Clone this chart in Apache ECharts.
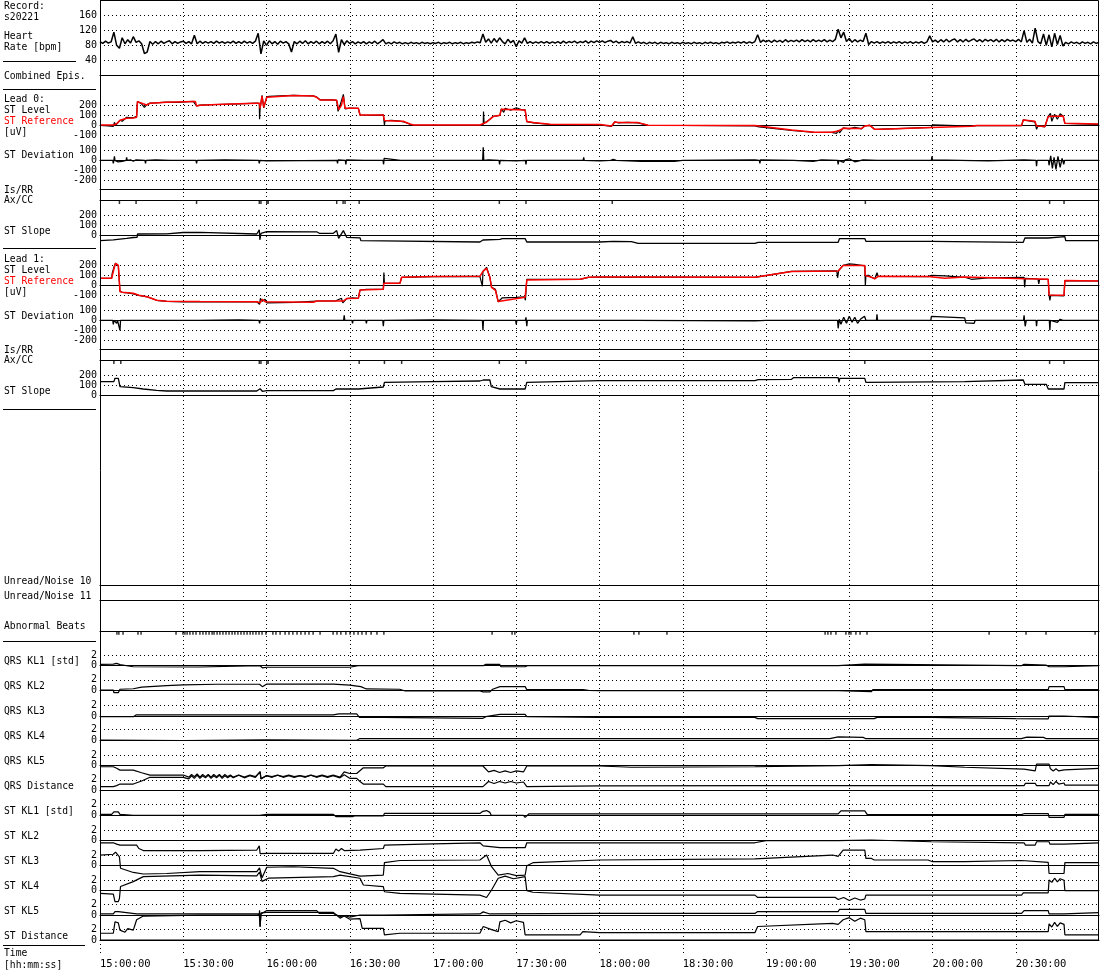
<!DOCTYPE html>
<html><head><meta charset="utf-8">
<script src="https://cdn.jsdelivr.net/npm/echarts@6/dist/echarts.min.js"></script>
<style>html,body{margin:0;padding:0;background:#fff}#c{width:1100px;height:970px}</style>
</head><body><div id="c"></div>
<script>
// ---------------- DATA (time in minutes after 15:00:00) ----------------
const timeLabels = ['15:00:00','15:30:00','16:00:00','16:30:00','17:00:00','17:30:00','18:00:00','18:30:00','19:00:00','19:30:00','20:00:00','20:30:00','21:00:00'];
const hrStep = 1;
const hrValues = [
90,85,91,86,89,115,80,72,100,84, 95,86,103,88,92,84,58,62,90,83, 90,84,91,85,89,92,84,90,85,89,
91,85,90,84,107,84,91,85,90,86, 90,85,91,86,90,85,89,86,91,85, 90,85,91,86,90,85,91,112,57,92,
80,92,84,90,83,91,86,90,84,62, 90,84,91,85,92,84,90,85,91,84, 90,85,91,84,92,110,61,95,82,92,
85,90,84,89,85,90,84,89,85,91, 84,89,95,84,88,84,89,85,88,84, 87,84,88,85,87,84,88,85,87,84,
87,85,88,84,87,85,88,84,87,85, 88,84,87,85,88,86,89,87,110,88, 97,86,98,88,100,90,84,96,87,93,
76,92,86,100,85,90,85,89,86,90, 86,90,85,89,86,90,85,91,86,90, 87,91,86,90,87,92,86,91,87,92,
88,92,87,91,93,87,91,86,90,87, 90,86,103,85,89,85,88,84,88,85, 88,84,88,85,87,84,88,85,87,84,
88,85,87,84,88,85,87,84,88,85, 88,85,87,84,88,86,89,85,88,86, 89,86,90,85,89,86,90,108,88,94,
89,93,88,94,89,93,88,95,89,93, 90,94,89,95,90,94,89,95,90,94, 90,95,89,94,90,96,123,100,115,90,
98,88,95,89,94,90,112,82,90,86, 90,85,89,86,90,85,89,86,90,85, 89,86,90,85,89,86,90,85,89,105,
89,94,88,95,89,96,89,94,97,89, 95,89,96,90,94,97,90,95,89,96, 91,95,90,96,89,95,90,96,91,94,
90,96,89,119,88,96,86,126,90,84, 110,80,108,76,112,82,106,78,88,84, 89,85,88,84,89,85,88,84,89,85,
88];

const lead0Ref = [[0,3],[4.8,3],[6,15],[7.2,50],[9.6,70],[12,72],[13.2,80],[13.5,237],[15.6,215],[16.8,203],[18,220],[24,230],[33.6,237],[34.4,237],[34.8,193],[36,200],[42,207],[50,215],[56.5,220],[57.4,220],[57.7,170],[58.4,293],[59,180],[60.1,280],[60.7,287],[69.7,297],[76.9,293],[78.1,280],[79.3,253],[84.1,253],[85.3,250],[86,157],[87,200],[87.7,287],[88.3,170],[88.9,170],[93.1,170],[93.7,103],[102.1,103],[102.5,47],[108.1,40],[109.3,40],[111.7,13],[113,3],[136.9,3],[139.3,30],[140.5,60],[141.7,87],[144.1,100],[144.6,160],[153.2,153],[153.8,37],[156.2,27],[162.2,10],[180.2,7],[184.3,-7],[185.5,33],[186.7,27],[193.9,27],[197.5,0],[236,-3],[249.2,-47],[257.6,-70],[263.6,-70],[266,-57],[267.8,-30],[274.4,-33],[275.6,-7],[277.4,0],[279.2,-40],[281.6,-40],[299.6,-23],[300,-10],[314,-10],[316,-3],[332.1,-3],[332.7,53],[336.9,40],[337.5,-7],[340.5,-13],[341.7,87],[347.1,93],[347.7,20],[359.7,13],[360,13]];
const lead0Level = [[0,0],[3,-5],[4.8,-10],[5.2,30],[5.6,0],[6,15],[7.2,50],[8,40],[9.6,80],[10,60],[12,75],[13.2,90],[13.5,237],[15,215],[16,180],[16.8,205],[18,222],[20,225],[24,232],[28,230],[33.6,240],[34.8,195],[36,202],[42,208],[50,214],[56.5,222],[57.4,220],[57.5,60],[57.7,170],[58.4,300],[59,175],[60.1,285],[61,290],[65,295],[69.7,300],[72,296],[76.9,295],[78.1,282],[79.3,255],[84.1,255],[85.3,250],[85.8,140],[86.5,200],[87.7,310],[88.3,165],[88.9,175],[90,172],[93.1,170],[93.7,103],[100,100],[102.1,105],[102.5,0],[102.7,45],[105,50],[108.1,42],[108.8,60],[109.3,35],[111.7,10],[113,3],[125,0],[136.9,3],[138.1,10],[138.2,137],[138.4,25],[139.3,35],[140.5,60],[141.7,90],[144.1,100],[144.6,165],[145.5,130],[146,170],[148,150],[150,175],[152,155],[153.2,155],[153.8,37],[156.2,25],[162.2,8],[170,5],[174.1,5],[174.3,20],[174.5,5],[180.2,5],[184.3,-10],[185.5,35],[186.7,25],[190,30],[193.9,25],[197.5,0],[210,-2],[236,-5],[237.5,-15],[238,-3],[249.2,-50],[257.6,-72],[263.6,-70],[265.5,-80],[266,-50],[266.5,-75],[267.8,-25],[270,-35],[272,-20],[274.4,-35],[275.6,-5],[277.4,0],[279.2,-42],[281.6,-38],[290,-30],[299.6,-20],[300,5],[300.4,-10],[314,-8],[316,-3],[332.1,-3],[332.7,55],[336.9,35],[337.5,-40],[338,-5],[340.5,-15],[341.7,90],[342.5,120],[343,40],[344,110],[345,60],[346,115],[347.1,90],[347.7,20],[359.7,10],[360,10]];
const lead0Dev = [[0,0],[4.6,0],[4.8,-30],[5.0,0],[5.2,40],[5.4,0],[5.6,-20],[5.8,5],[6.5,-15],[7,5],[8,-10],[8.5,10],[9.4,0],[9.6,30],[9.8,0],[11,5],[12,-10],[13,5],[16.2,0],[16.4,-30],[16.6,0],[20,5],[25,0],[34.6,0],[34.8,-30],[35,0],[45,5],[57.2,0],[57.4,-30],[57.6,0],[60,-5],[85.4,0],[85.6,-30],[85.8,5],[88.4,0],[88.6,-40],[88.8,5],[95,0],[102.0,0],[102.2,-40],[102.4,20],[102.6,0],[108.3,0],[108.5,20],[108.7,0],[120,0],[137.9,0],[138.1,130],[138.3,0],[140,5],[143.8,0],[144,-40],[144.2,0],[150,-5],[153.3,0],[153.5,-40],[153.7,0],[170,0],[174.1,0],[174.3,30],[174.5,0],[180,-5],[184,0],[185,10],[186,0],[195,-10],[207,-10],[210,0],[236,5],[237.6,0],[237.8,-30],[238.0,5],[250,0],[257,-10],[260,5],[265.8,0],[266,-40],[266.2,0],[268,-20],[268.5,5],[270,15],[270.5,0],[272,-15],[272.5,0],[275,5],[280,0],[299.6,0],[299.8,40],[300.0,5],[310,0],[320,-5],[333,5],[337.3,0],[337.5,-60],[337.7,0],[341.8,0],[342,-50],[342.6,45],[343.2,-80],[343.8,30],[344.5,-90],[345.2,40],[346,-70],[346.7,20],[347.3,-40],[347.6,0],[360,0]];
const lead0Slope = [[0,-53],[4.8,-45],[9.6,-30],[12,-22],[13.4,-20],[13.5,13],[24,15],[30,28],[36,30],[36.5,15],[56.5,13],[57.4,55],[57.6,-45],[58,20],[60.1,37],[78.1,35],[79,20],[84.1,20],[85.3,47],[86,-30],[87.7,47],[88.9,-20],[93.7,-25],[94,-53],[102.1,-55],[102.5,-67],[136.9,-67],[138,-47],[144.1,-40],[145,-33],[153.2,-33],[153.8,-67],[180,-67],[185,-60],[191.5,-63],[193.9,-80],[236,-80],[237.2,-70],[266,-70],[266.5,-33],[275.6,-33],[276,-60],[299.6,-60],[300,-70],[332.7,-70],[333.3,-27],[341.7,-27],[342,-13],[347.7,-13],[348,-53],[360,-53]];
const lead0AxCC = [7.0,13.0,34.8,57.4,58.0,60.1,60.6,85.3,87.6,88.3,93.4,143.9,153.5,184.6,275.8,342.2,347.4];

const lead1Ref = [[0,70],[4.2,70],[5,160],[5.6,220],[6.6,200],[7.2,-63],[8,-70],[12,-80],[14,-100],[17,-115],[20.4,-150],[24,-160],[36,-163],[56.5,-165],[57.7,-175],[58.5,-140],[59.5,-165],[60.1,-170],[76.9,-170],[78.1,-157],[87.7,-157],[88.9,-133],[93.1,-130],[93.7,-47],[102.1,-40],[102.3,20],[108.1,20],[108.7,80],[120,87],[136.9,90],[138,140],[139.3,170],[140.5,80],[141.1,-20],[142.5,-50],[143.5,-163],[144.1,-150],[153.2,-120],[153.8,53],[173,60],[176,80],[180.2,83],[191.5,83],[236,80],[249.2,137],[266,143],[267.8,197],[275.6,197],[275.8,97],[278,80],[279.2,65],[280.4,90],[298.4,87],[299,70],[304.4,70],[305,83],[311.6,83],[312,70],[333.3,65],[338,63],[341.7,60],[342,-97],[347.4,-100],[347.7,47],[360,43]];
const lead1Level = [[0,70],[4.2,70],[4.4,120],[5,180],[5.6,220],[6.6,195],[7.2,-60],[8,-70],[10,-75],[12,-85],[14,-100],[17,-115],[20.4,-150],[24,-160],[30,-165],[36,-163],[56.5,-165],[57.2,-175],[57.5,-190],[57.8,-130],[58.5,-160],[59.5,-140],[60.1,-175],[70,-170],[78.1,-157],[85,-155],[87,-130],[87.5,-175],[88.9,-133],[91,-125],[93.1,-130],[93.7,-47],[96,-40],[102.1,-40],[102.3,127],[102.5,20],[108.1,20],[108.7,80],[120,87],[136.9,90],[137.5,75],[137.8,-10],[138,140],[139.3,180],[140.5,80],[141.1,-20],[142.5,-40],[143.5,-165],[145,-125],[150,-120],[153,-115],[153.3,-150],[153.8,60],[173,60],[176,80],[180.2,83],[191.5,80],[192,60],[192.5,83],[236,80],[249.2,140],[265.5,145],[265.8,75],[266.2,150],[267.8,200],[270,215],[272,210],[275.6,195],[275.8,-5],[276,97],[277,100],[278,80],[279.2,65],[280,125],[280.4,90],[298.4,87],[299,70],[299.6,100],[304.4,95],[311.6,80],[314,60],[320,75],[333,80],[333.2,-20],[333.5,70],[338,63],[338.3,15],[338.6,60],[341.7,60],[342,-97],[342.3,-150],[342.6,-100],[347.4,-105],[347.7,47],[352,45],[360,43]];
const lead1Dev = [[0,0],[4.6,0],[4.8,-40],[5.0,0],[5.2,10],[5.6,0],[6,-30],[6.3,0],[7.0,0],[7.2,-100],[7.4,0],[12.8,0],[13,20],[13.2,0],[35.8,0],[36,-15],[36.2,0],[50,5],[57.3,0],[57.5,-30],[57.7,0],[80,0],[87.8,0],[88,50],[88.2,0],[90.8,0],[91,-30],[91.2,0],[95.8,0],[96,-30],[96.2,0],[101.9,0],[102.1,-60],[102.3,0],[120,5],[137.8,0],[138,-100],[138.2,0],[144.8,0],[145,20],[145.2,0],[149.8,0],[150,-40],[150.2,0],[153.3,0],[153.5,30],[153.8,-60],[154,0],[180,0],[192.5,0],[192.7,-20],[192.9,0],[236,-5],[240,0],[265.8,0],[266,-80],[266.4,10],[267,-40],[268,30],[269,-30],[270,40],[271,-20],[272,30],[273,-30],[274,10],[275.5,40],[276,0],[279.8,0],[280,60],[280.2,0],[299.4,0],[299.6,40],[300,25],[311.6,25],[312,-25],[315,-30],[315.4,0],[332.8,0],[333,50],[333.4,-60],[333.8,0],[337.3,0],[337.5,-60],[337.7,0],[342.1,0],[342.3,-100],[342.5,0],[345,-20],[346,10],[347,0],[360,0]];
const lead1Slope = [[0,137],[5,137],[5.4,170],[6.6,170],[7.2,87],[12,77],[15.6,63],[20.4,50],[24,43],[56.5,43],[57.7,65],[58.5,40],[60.1,47],[84.1,47],[85,63],[93.1,63],[93.7,83],[102.1,83],[102.5,130],[120,137],[136.9,143],[138.1,153],[140.5,153],[141,87],[144.1,63],[153.2,63],[153.8,130],[180,147],[236,147],[237.2,157],[249.2,160],[250,177],[266,177],[266.3,130],[266.6,170],[275.6,170],[276,130],[311.6,137],[312,153],[332.7,153],[333.3,110],[341,110],[341.7,63],[347.4,63],[347.7,127],[360,127]];
const lead1AxCC = [5.0,7.5,57.4,58.0,60.1,60.6,93.4,102.5,108.7,143.9,153.5,275.6,342.2,347.4];

const abnormalBeats = [6.1,6.8,8.3,13.7,14.8,27.4,29.9,30.6,31.4,32.4,33.5,34.6,36.0,37.1,38.2,39.3,40.4,41.1,42.2,43.2,44.3,45.4,46.5,47.6,48.6,49.7,50.8,51.9,53.0,54.1,55.1,56.2,57.3,58.4,59.8,62.3,63.4,64.9,66.7,68.1,69.5,71.0,72.4,73.9,75.3,76.8,79.3,84.0,85.4,86.8,88.6,90.1,91.5,93.0,94.4,95.9,97.7,99.8,102.3,141.3,148.5,149.5,192.4,194.2,204.3,261.3,262.3,263.4,265.2,268.8,269.9,270.6,272.4,273.9,276.4,320.4,333.7,340.9,358.6];

const qrsKL1 = [[0,0.26],[4.8,0.3],[6,0.45],[7.2,0.2],[12,-0.2],[36,-0.25],[57.7,0],[58.5,-0.4],[60.1,-0.3],[90,-0.3],[93,0],[138.1,0],[139,0.26],[144,0.26],[144.5,-0.2],[153.2,-0.2],[154,0],[180,0],[266,0],[266.5,0.3],[275.6,0.3],[276,0],[332,0],[333,0.26],[341,0.1],[342,-0.2],[347.5,-0.2],[348,0],[360,0]];
const qrsKL2 = [[0,0.06],[4.8,0.06],[5,-0.45],[6.6,-0.45],[7.2,0.2],[12,0.3],[15,0.6],[24,0.9],[30,1.05],[42,1.16],[57.5,1.16],[57.7,1.4],[58.5,0.7],[60.1,1.2],[84.1,1.2],[90,1.0],[94,0.7],[96,0.26],[108,0.2],[110,-0.13],[137,-0.13],[138,-0.3],[140.5,-0.3],[141.5,0.2],[144.1,0.7],[153.2,0.7],[153.8,0.13],[174,0.13],[176,0],[180,-0.06],[266,-0.06],[266.5,-0.26],[278,-0.26],[278.5,0.13],[341.7,0.13],[342,0.7],[347.4,0.7],[347.7,0.13],[360,0.13]];
const qrsKL3 = [[0,-0.13],[12,-0.13],[13,0.2],[84.1,0.2],[86,0.4],[92.5,0.4],[93.5,-0.26],[102.1,-0.26],[102.5,-0.45],[138,-0.45],[139,-0.13],[144.1,0.3],[153.2,0.3],[153.8,-0.13],[180,-0.26],[236,-0.26],[237,-0.5],[279,-0.5],[280,-0.26],[299.6,-0.26],[300,-0.5],[330,-0.5],[341.7,-0.55],[342,0],[347.4,0],[347.7,-0.3],[360,-0.3]];
const qrsKL4 = [[0,0],[30,-0.1],[60,0.05],[92.5,-0.05],[93.5,0.25],[180,0.25],[263,0.25],[266,0.6],[275,0.5],[276,0.25],[332,0.25],[334,0.55],[340,0.5],[341,0.25],[360,0.25]];
const qrsKL5 = [[0,-0.2],[4.8,-0.2],[5.4,0.1],[6,-0.5],[6.6,-0.2],[7.2,-0.85],[12,-0.85],[15,-1.35],[18,-1.8],[30,-1.8],[32,-2.2],[33,-1.7],[34,-2.1],[35,-1.6],[36,-2.2],[37,-1.7],[38,-2.1],[39,-1.7],[40,-2.2],[41,-1.7],[42,-2.1],[43,-1.7],[44,-2.2],[45,-1.7],[46,-2.1],[47,-1.8],[48,-2.2],[50,-1.8],[52,-2.2],[54,-1.8],[56,-2.1],[57.7,-1.2],[58,-2.5],[60,-1.9],[62,-2.1],[64,-1.8],[66,-2.1],[68,-1.8],[70,-2.1],[72,-1.9],[74,-2.1],[76,-1.8],[78,-2.1],[80,-1.8],[82,-2.1],[84,-1.8],[86.5,-2.2],[88,-1.2],[90,-1.5],[92.5,-1.5],[94.9,-0.4],[102.1,-0.4],[103,-0.06],[138,-0.06],[140,-1.2],[142,-0.9],[144,-1.3],[146,-1.0],[148,-1.3],[150,-1.0],[152.6,-1.2],[153.8,-0.06],[180,-0.06],[191.5,-0.3],[192,-0.2],[236,-0.2],[266,0],[266.5,0.2],[278,0.2],[278.5,0],[299.6,0],[300,-0.3],[311.6,-0.3],[312,-0.65],[333,-0.65],[333.5,-1],[337,-1],[337.5,0.3],[342,0.3],[342.5,-0.6],[343.5,-1.0],[344.5,-0.6],[345.5,-1.0],[347.4,-0.8],[347.7,-0.5],[360,-0.5]];
const qrsDistance = [[0,0.7],[4.8,0.7],[6,0.9],[7.2,1.2],[12,1.2],[15,1.8],[18,2.5],[30,2.5],[32,2.2],[33,2.8],[34,2.3],[35,2.9],[36,2.3],[37,2.8],[38,2.4],[39,2.9],[40,2.3],[41,2.8],[42,2.4],[43,2.9],[44,2.3],[45,2.8],[46,2.4],[47,2.8],[48,2.4],[50,2.9],[52,2.4],[54,2.8],[56,2.5],[57.7,3.6],[58,2.2],[60,2.8],[62,2.5],[64,2.9],[66,2.5],[68,2.8],[70,2.5],[72,2.8],[74,2.5],[76,2.9],[78,2.5],[80,2.8],[82,2.5],[84,2.8],[86.5,2.4],[88,3.0],[90,2.3],[92.5,2.3],[93.7,1.7],[94.9,1.2],[102.1,1.2],[103,0.7],[138,0.7],[140,1.7],[142,1.3],[144,1.7],[146,1.4],[148,1.7],[150,1.4],[152.6,1.6],[153.8,0.7],[180,0.85],[236,0.9],[333,0.9],[333.5,1.35],[337,1.35],[337.5,0.9],[342,0.9],[342.5,1.6],[343.5,1.1],[344.5,1.7],[345.5,1.2],[347.4,1.4],[347.7,1.0],[360,1.0]];
const stKL1 = [[0,0.13],[4.2,0.13],[5,0.6],[5.6,0.85],[6.6,0.6],[7.2,0.13],[12,-0.06],[57.5,-0.06],[57.7,0.2],[60.1,0.13],[84.1,0.13],[85,-0.3],[91,-0.3],[92,-0.15],[102.1,-0.15],[102.5,0.3],[136.9,0.3],[138,0.7],[139.3,0.85],[140.5,0.5],[141,-0.06],[152.6,-0.06],[153.2,-0.45],[154.5,0.2],[180,0.2],[266,0.2],[267,0.8],[275.6,0.8],[276.5,0.06],[332,0.06],[333,0.25],[341.7,0.25],[342,-0.45],[347.4,-0.45],[347.7,0.13],[360,0.13]];
const stKL2 = [[0,-0.4],[4.8,-0.4],[6,-0.65],[7.2,-0.85],[13.2,-0.85],[14,-1.5],[15.6,-1.9],[36,-1.9],[36.5,-1.8],[56.5,-1.8],[57.4,-1.0],[57.7,-2.5],[60.1,-2.45],[84.1,-2.45],[85,-1.6],[86,-2.0],[87,-1.5],[88,-1.9],[93.7,-1.8],[94,-1.5],[102.1,-1.5],[102.5,-0.85],[120,-0.6],[136.9,-0.4],[138.1,-1.0],[144.1,-1.35],[153.2,-1.35],[153.8,-0.4],[180,-0.4],[236,-0.4],[240,0],[266,0],[266.5,0.13],[278,0.13],[278.5,-0.2],[299.6,-0.2],[300,-0.4],[333,-0.4],[333.5,-0.85],[337,-0.85],[337.5,-0.2],[342,-0.2],[342.3,-0.65],[347.4,-0.65],[347.7,-0.4],[360,-0.4]];
const stKL3 = [[0,2.05],[4.8,2.2],[5.6,2.6],[7,1.7],[7.4,-0.5],[12,-1.3],[15.6,-1.6],[24,-1.5],[36,-1.15],[56.5,-1.15],[57.5,-0.4],[58.4,-2.3],[60.1,-0.3],[69.7,-0.2],[84.1,-0.5],[86.5,-1.15],[93.7,-2.0],[102.1,-1.8],[102.5,0.6],[108.1,1.0],[136.9,1.1],[139.3,2.05],[141.1,-0.2],[143.5,-1.8],[147,-1.5],[150,-1.9],[153.2,-1.8],[153.8,0],[156.2,0.6],[180,1.1],[236,1.3],[264,2.05],[266,1.8],[267.8,3.0],[275.6,3.0],[276,1.4],[278,1.4],[279,1.1],[298.4,1.1],[300,0.77],[311.6,0.77],[312,1.0],[332.1,1.0],[332.7,0.65],[341.7,0.65],[342,-1.5],[347.4,-1.5],[347.7,0.6],[360,0.6]];
const stKL4 = [[0,-0.5],[4.8,-0.65],[5.4,-2.1],[6.6,-2.1],[7,-1.5],[7.4,0.8],[12,1.75],[15.6,2.7],[36,3.0],[56.5,2.85],[57.5,3.6],[58.4,1.8],[60.7,2.4],[84.1,2.7],[86.5,3.0],[93.7,2.4],[94.9,1.1],[102.1,0.8],[102.5,-0.2],[108.1,-0.5],[136.9,-0.85],[139.3,-1.3],[141.1,0.13],[143.5,2.4],[146,2.8],[149,2.3],[153.2,2.7],[153.8,0],[156,-0.3],[180,-0.85],[236,-0.85],[237,-1.3],[265,-1.3],[266,-1.7],[268,-1.3],[270,-1.9],[272,-1.4],[274,-1.8],[275.6,-1.6],[276,-0.85],[332.1,-0.85],[332.7,-0.4],[341.7,-0.4],[342,2.05],[343,1.6],[344,2.4],[345,1.7],[346,2.3],[347.4,2.0],[347.7,0],[360,0]];
const stKL5 = [[0,0.2],[4.8,0.2],[5.4,0.65],[6.6,0.65],[7.2,0.3],[13.2,0.2],[57.4,0.2],[57.5,0.9],[57.7,-2.2],[58,0.2],[60.1,0.85],[78.1,0.85],[79,0.3],[84.1,0.3],[86.5,-0.3],[88,-0.1],[90,-0.4],[93.7,0],[102.1,0],[102.5,0.2],[136.9,0.2],[138.1,0.6],[140.5,0.2],[180,0.3],[236,0.3],[237,0.65],[266,0.65],[266.5,1.1],[275.6,1.1],[276,0.3],[332.1,0.3],[333,0.85],[341.7,0.85],[342,0.2],[347.4,0.2],[347.7,0.45],[360,0.45]];
const stDistance = [[0,1.3],[4.8,1.3],[5.4,3.5],[6.6,3.3],[7.2,1.9],[9,1.5],[10,2.2],[12,1.9],[13.2,3.9],[15.6,4.6],[36,4.8],[56.5,4.8],[57.4,4.9],[57.7,2.5],[58,5.2],[60.1,5.3],[84.1,5.3],[86.5,4.2],[88,4.6],[90,4.0],[93.7,4.1],[94.5,2.25],[102.1,2.25],[102.5,0.97],[108.1,1.3],[136.9,1.3],[138.1,2.6],[141.1,2.0],[143.5,1.6],[144.1,3.5],[146,3.8],[148,3.3],[150,3.7],[152.6,3.4],[153.2,1.0],[173,1.0],[174,1.6],[180,1.4],[236,1.4],[237,2.6],[264,3.2],[266,3.0],[267.8,3.9],[270,4.3],[272,3.6],[274,4.2],[275.6,3.9],[276,1.6],[341.7,1.6],[342,3.1],[343,2.5],[344,3.4],[345,2.6],[346,3.3],[347.4,3.0],[347.7,1.0],[360,1.0]];

// ---------------- LAYOUT ----------------
const FONT = 'DejaVu Sans Mono';
const FS = 10;
const BLACK = '#000', RED = '#ff0000';
const DOT = {color: BLACK, type: [1, 3], width: 1};
const grids = [], xAxes = [], yAxes = [], series = [];

function addPanel(p) {
  const i = grids.length;
  grids.push({left: 100, width: 999, top: p.top, height: p.height});
  xAxes.push({gridIndex: i, type: 'value', min: 0, max: 360,
    position: p.axisTop ? 'top' : 'bottom',
    axisLine: {show: p.line !== false, onZero: !p.axisTop, lineStyle: {color: BLACK, width: 1}},
    axisTick: {show: false}, axisLabel: {show: false}, splitLine: {show: false}});
  yAxes.push({gridIndex: i, type: 'value', min: p.min, max: p.max, interval: p.interval,
    axisLine: {show: false}, axisTick: {show: false},
    axisLabel: {show: !!p.labels, color: BLACK, fontFamily: FONT, fontSize: FS, margin: 3, hideOverlap: false,
      showMinLabel: p.minLabel !== false, showMaxLabel: p.maxLabel !== false},
    splitLine: {show: !!p.dots, showMinLine: !!p.minLine, showMaxLine: !!p.maxLine, lineStyle: DOT}});
  return i;
}
function addLine(i, data, color, width, z) {
  series.push({type: 'line', xAxisIndex: i, yAxisIndex: i, data: data, symbol: 'none', showSymbol: false,
    clip: false, animation: false, silent: true, z: z || 2,
    lineStyle: {color: color, width: width || 1}});
}
function addEvents(i, times, h) {
  series.push({type: 'scatter', xAxisIndex: i, yAxisIndex: i, data: times.map(t => [t, 0.5]),
    symbol: 'rect', symbolSize: [1.5, h || 3.5], itemStyle: {color: BLACK}, animation: false, silent: true, clip: false});
}

// background grid: vertical dotted lines and time labels
grids.push({left: 100, width: 999, top: 0, height: 957});
xAxes.push({gridIndex: 0, type: 'value', min: 0, max: 360, interval: 30,
  axisLine: {show: false}, axisTick: {show: false},
  axisLabel: {color: BLACK, fontFamily: FONT, fontSize: 10.5, align: 'left', margin: 3, showMaxLabel: false, hideOverlap: false,
    formatter: v => timeLabels[Math.round(v / 30)]},
  splitLine: {show: true, showMinLine: true, showMaxLine: false, lineStyle: DOT}});
yAxes.push({gridIndex: 0, type: 'value', show: false});

// Heart rate
const gHR = addPanel({top: 0.3, height: 75, min: 0, max: 200, interval: 40, labels: true, minLabel: false, maxLabel: false, dots: true});
addLine(gHR, hrValues.map((v, k) => [k * hrStep, v]), BLACK, 1.5);

// Lead 0
const gL0 = addPanel({top: 105.3, height: 30, min: -100, max: 200, interval: 100, labels: true, dots: true, minLine: true, maxLine: true});
addLine(gL0, lead0Level, BLACK, 1.2, 2);
addLine(gL0, lead0Ref, RED, 1.5, 3);
const gD0 = addPanel({top: 150.3, height: 30, min: -200, max: 100, interval: 100, labels: true, dots: true, minLine: true, maxLine: true});
addLine(gD0, lead0Dev, BLACK, 1.3);
addPanel({top: 185.3, height: 4, min: 0, max: 1, interval: 1});
const gA0 = addPanel({top: 200.3, height: 4, min: 0, max: 1, interval: 1, axisTop: true});
addEvents(gA0, lead0AxCC, 3.5);
const gS0 = addPanel({top: 215.3, height: 20, min: 0, max: 200, interval: 100, labels: true, dots: true, maxLine: true});
addLine(gS0, lead0Slope, BLACK, 1.3);

// Lead 1
const gL1 = addPanel({top: 265.3, height: 30, min: -100, max: 200, interval: 100, labels: true, dots: true, minLine: true, maxLine: true});
addLine(gL1, lead1Level, BLACK, 1.2, 2);
addLine(gL1, lead1Ref, RED, 1.5, 3);
const gD1 = addPanel({top: 310.3, height: 30, min: -200, max: 100, interval: 100, labels: true, dots: true, minLine: true, maxLine: true});
addLine(gD1, lead1Dev, BLACK, 1.3);
addPanel({top: 345.3, height: 4, min: 0, max: 1, interval: 1});
const gA1 = addPanel({top: 360.3, height: 4, min: 0, max: 1, interval: 1, axisTop: true});
addEvents(gA1, lead1AxCC, 3.5);
const gS1 = addPanel({top: 375.3, height: 20, min: 0, max: 200, interval: 100, labels: true, dots: true, maxLine: true});
addLine(gS1, lead1Slope, BLACK, 1.3);

// Unread / noise, abnormal beats
addPanel({top: 581, height: 4, min: 0, max: 1, interval: 1});
addPanel({top: 596, height: 4, min: 0, max: 1, interval: 1});
const gAB = addPanel({top: 631, height: 4, min: 0, max: 1, interval: 1, axisTop: true});
addEvents(gAB, abnormalBeats, 3.5);

// KL panels
const klZeros = [665.7, 690.3, 716, 740, 765.7, 790.3, 815, 840.7, 865.7, 890.7, 915, 940];
const klSeries = [qrsKL1, qrsKL2, qrsKL3, qrsKL4, qrsKL5, qrsDistance, stKL1, stKL2, stKL3, stKL4, stKL5, stDistance];
klZeros.forEach((z, k) => {
  const g = addPanel({top: z - 10.4, height: 10.4, min: 0, max: 2, interval: 2, labels: true, dots: true, maxLine: true});
  addLine(g, klSeries[k], BLACK, 1.2);
});

// ---------------- LEFT LABELS ----------------
const leftLabels = [
  ['Record:', 6], ['s20221', 17], ['Heart', 36], ['Rate [bpm]', 47], ['Combined Epis.', 76],
  ['Lead 0:', 99], ['ST Level', 110], ['ST Reference', 121, RED], ['[uV]', 132], ['ST Deviation', 155],
  ['Is/RR', 190], ['Ax/CC', 200], ['ST Slope', 231],
  ['Lead 1:', 259], ['ST Level', 270], ['ST Reference', 281, RED], ['[uV]', 292], ['ST Deviation', 316],
  ['Is/RR', 350], ['Ax/CC', 360], ['ST Slope', 391],
  ['Unread/Noise 10', 581], ['Unread/Noise 11', 596], ['Abnormal Beats', 626],
  ['QRS KL1 [std]', 661], ['QRS KL2', 686], ['QRS KL3', 711], ['QRS KL4', 736], ['QRS KL5', 761],
  ['QRS Distance', 786], ['ST KL1 [std]', 811], ['ST KL2', 836], ['ST KL3', 861], ['ST KL4', 886],
  ['ST KL5', 911], ['ST Distance', 936], ['Time', 953], ['[hh:mm:ss]', 965]
];
const sepLines = [[61, 76], [89, 96], [248, 96], [409, 96], [641, 96], [945, 85]];
const graphic = [];
leftLabels.forEach(([t, y, c]) => graphic.push({type: 'text', x: 4, y: y, scaleX: 0.88, silent: true,
  style: {text: t, fill: c || BLACK, font: '11px "' + FONT + '"', verticalAlign: 'middle', align: 'left'}}));
sepLines.forEach(([y, x2]) => graphic.push({type: 'line', silent: true,
  shape: {x1: 3, y1: y + 0.5, x2: x2, y2: y + 0.5}, style: {stroke: BLACK, lineWidth: 1}}));
graphic.push({type: 'rect', silent: true, z: 10, shape: {x: 100.5, y: 0.5, width: 998, height: 939.5},
  style: {fill: 'none', stroke: BLACK, lineWidth: 1}});

const chart = echarts.init(document.getElementById('c'), null, {renderer: 'canvas'});
chart.setOption({
  animation: false, backgroundColor: '#fff',
  grid: grids, xAxis: xAxes, yAxis: yAxes, series: series, graphic: graphic
});
</script></body></html>
